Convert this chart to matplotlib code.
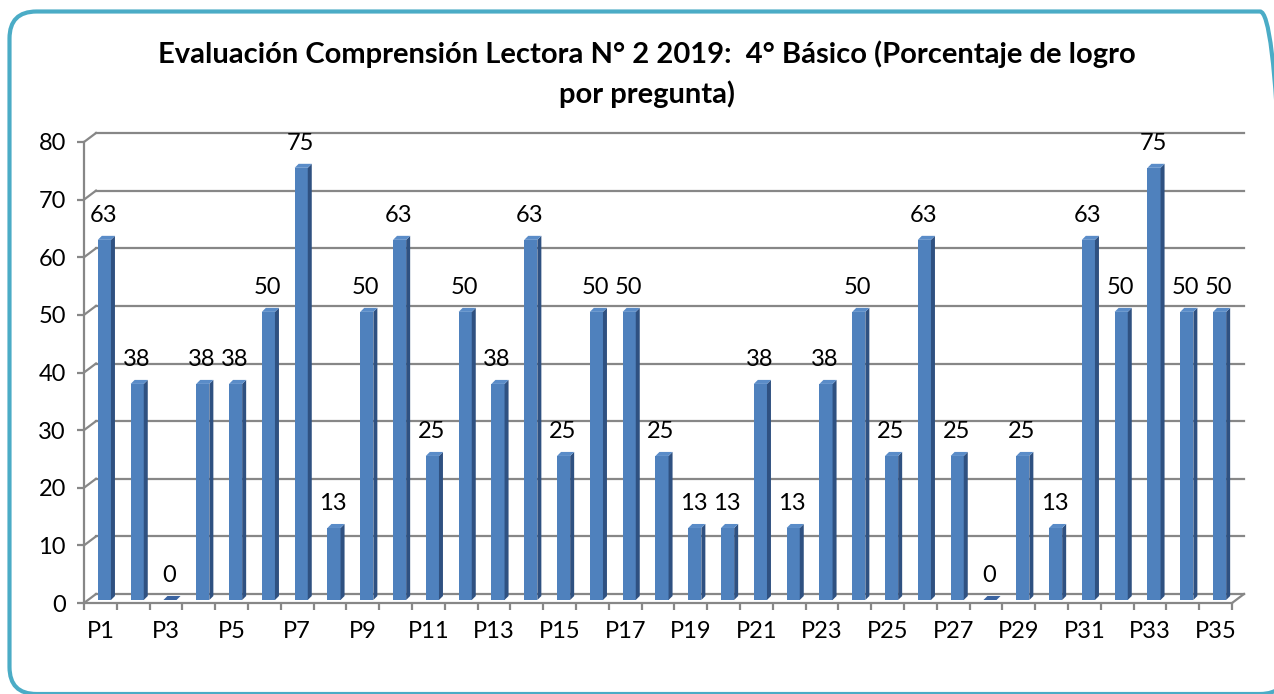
import matplotlib
matplotlib.use("Agg")
import matplotlib.pyplot as plt
from matplotlib.patches import Polygon, FancyBboxPatch
import numpy as np

plt.rcParams['font.family'] = ['Lato', 'DejaVu Sans']

preguntas = ['P%d' % i for i in range(1, 36)]
logro = [62.5, 37.5, 0, 37.5, 37.5, 50, 75, 12.5, 50, 62.5,
         25, 50, 37.5, 62.5, 25, 50, 50, 25, 12.5, 12.5,
         37.5, 12.5, 37.5, 50, 25, 62.5, 25, 0, 25, 12.5,
         62.5, 50, 75, 50, 50]
etiquetas = [63, 38, 0, 38, 38, 50, 75, 13, 50, 63,
             25, 50, 38, 63, 25, 50, 50, 25, 13, 13,
             38, 13, 38, 50, 25, 63, 25, 0, 25, 13,
             63, 50, 75, 50, 50]
yticks = list(range(0, 81, 10))
titulo = 'Evaluación Comprensión Lectora N° 2 2019:  4° Básico (Porcentaje de logro\npor pregunta)'

W, H, DPI = 1274, 694, 100
fig = plt.figure(figsize=(W / DPI, H / DPI), dpi=DPI)
fig.patch.set_facecolor('white')

# plot area in pixels (front plane)
x0, x1 = 84, 1232
y0, y1 = 603, 142
ax = fig.add_axes([x0 / W, 1 - y0 / H, (x1 - x0) / W, (y0 - y1) / H])
n = len(logro)
ax.set_xlim(0, n)
ax.set_ylim(0, 80)
ax.set_facecolor('none')

# pixel -> data unit helpers
px_x = (x1 - x0) / n
px_y = (y0 - y1) / 80.0
def dx(p):
    return p / px_x
def dy(p):
    return p / px_y

grid_c = '#878787'
# back wall gridlines + diagonal connectors
wx, wy = dx(12), dy(9)
for t in yticks:
    ax.plot([0, wx], [t, t + wy], color=grid_c, lw=1.6, clip_on=False, zorder=1)
    ax.plot([wx, n + wx], [t + wy, t + wy], color=grid_c, lw=1.6, clip_on=False, zorder=1)
# floor right edge
ax.plot([n, n + wx], [0, wy], color=grid_c, lw=1.6, clip_on=False, zorder=1)

# bars (3d look)
bw = 0.4
ox, oy = dx(4), dy(3)
sx, sy = dx(4), dy(4)
front_c = '#4F81BD'
side_c = '#2F5181'
top_c = '#5A8CC8'
centers = np.arange(n) + 0.5
for xc, v in zip(centers, logro):
    xl = xc - bw / 2 + ox
    xr = xc + bw / 2 + ox
    yb = oy
    yt = v + oy
    if v > 0:
        ax.add_patch(Polygon([[xl, yb], [xr, yb], [xr, yt], [xl, yt]], closed=True,
                             facecolor=front_c, edgecolor='none', zorder=3, clip_on=False))
        ax.add_patch(Polygon([[xr, yb], [xr + sx, yb + sy], [xr + sx, yt + sy], [xr, yt]], closed=True,
                             facecolor=side_c, edgecolor='none', zorder=3, clip_on=False))
    ax.add_patch(Polygon([[xl, yt], [xr, yt], [xr + sx, yt + sy], [xl + sx, yt + sy]], closed=True,
                         facecolor=top_c if v > 0 else '#3A63A0', edgecolor='none', zorder=3, clip_on=False))

# data labels
for xc, v, lab in zip(centers, logro, etiquetas):
    ax.annotate(str(lab), (xc + dx(3), v), xytext=(0, 12), textcoords='offset points',
                ha='center', va='bottom', fontsize=17, color='black', zorder=5,
                annotation_clip=False)

# axes styling
for s in ['top', 'right']:
    ax.spines[s].set_visible(False)
for s in ['left', 'bottom']:
    ax.spines[s].set_color(grid_c)
    ax.spines[s].set_linewidth(1.6)
ax.set_yticks(yticks)
ax.set_yticklabels([str(t) for t in yticks], fontsize=17)
ax.tick_params(axis='y', direction='out', length=5, width=1.6, color=grid_c, pad=8)
ax.set_xticks(np.arange(n + 1), minor=True)
ax.set_xticks(centers[::2])
ax.set_xticklabels(preguntas[::2], fontsize=17)
ax.tick_params(axis='x', which='major', length=0, pad=13)
ax.tick_params(axis='x', which='minor', direction='out', length=5, width=1.6, color=grid_c)

fig.text(647 / W, 1 - 74 / H, titulo, ha='center', va='center', fontsize=21,
         fontweight='bold', linespacing=1.55)

# rounded frame
frame = FancyBboxPatch((9.5 / DPI, 0 / DPI), 1277.5 / DPI, 682.5 / DPI,
                       boxstyle='round,pad=0,rounding_size=0.27',
                       transform=fig.dpi_scale_trans, facecolor='none',
                       edgecolor='#4BACC6', linewidth=3, zorder=0)
fig.patches.append(frame)

fig.savefig('out.png', dpi=DPI, facecolor='white')
